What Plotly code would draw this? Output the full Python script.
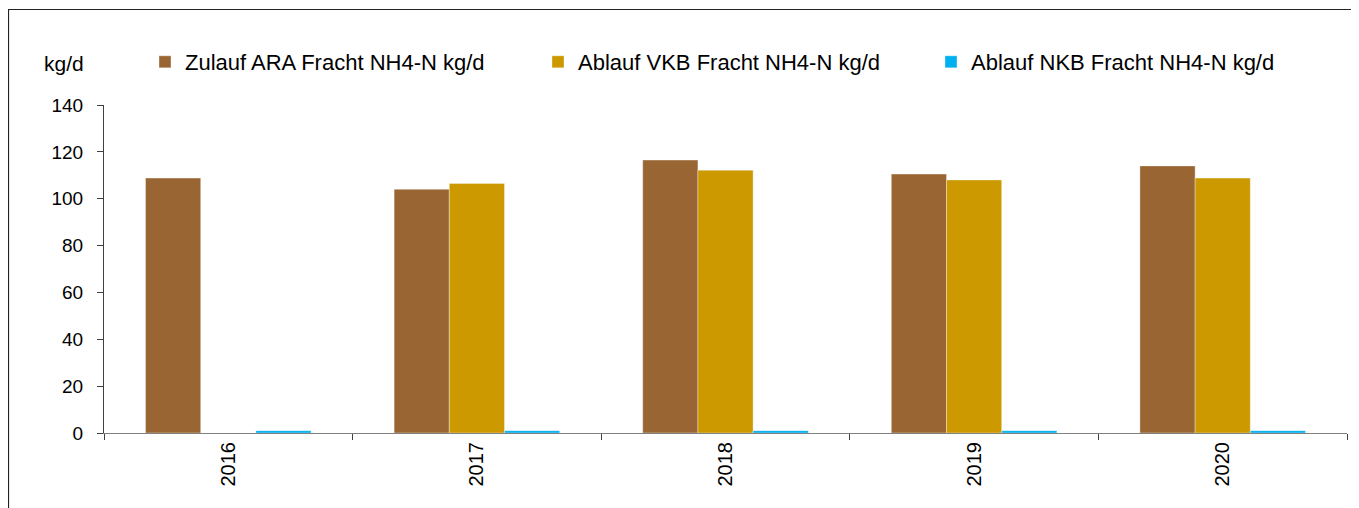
import plotly.graph_objects as go

years = ["2016", "2017", "2018", "2019", "2020"]
zulauf_ara = [108.8, 104.0, 116.5, 110.5, 114.0]
ablauf_vkb = [None, 106.5, 112.2, 108.0, 108.8]
ablauf_nkb = [1.0, 1.0, 1.0, 1.0, 1.0]

names = ["Zulauf ARA Fracht NH4-N kg/d", "Ablauf VKB Fracht NH4-N kg/d", "Ablauf NKB Fracht NH4-N kg/d"]
colors = ["#996633", "#CC9900", "#00B0F0"]
y_ticks = [0, 20, 40, 60, 80, 100, 120, 140]

FONT = "Liberation Sans, Arial, sans-serif"

fig = go.Figure()
for name, vals, col in zip(names, [zulauf_ara, ablauf_vkb, ablauf_nkb], colors):
    fig.add_trace(go.Bar(
        x=years, y=vals, name=name,
        marker=dict(color=col, line=dict(color="rgba(255,255,255,0.35)", width=1)),
    ))

# page has an 8px body margin; figure coords = page coords - 8
OFF = 8
W, H = 1359 - OFF, 508 - OFF
L, T = 104 - OFF, 105 - OFF
R = 1359 - 1347
B = 508 - 433
pw = W - L - R
ph = H - T - B
base_y = 433 - OFF  # figure y of plot bottom

def px_x(page_x):
    return (page_x - OFF - L) / pw

def px_y(page_y):
    return (433 - page_y) / ph

fig.update_layout(
    width=W, height=H,
    margin=dict(l=L, r=R, t=T, b=B),
    paper_bgcolor="white", plot_bgcolor="white",
    barmode="group", bargap=0.334, bargroupgap=0,
    font=dict(family=FONT, size=19, color="black"),
    showlegend=True,
    legend=dict(
        orientation="h", x=px_x(145), xanchor="left",
        y=px_y(62), yanchor="middle",
        font=dict(family=FONT, size=22, color="black"),
        entrywidth=348, entrywidthmode="pixels",
        bgcolor="rgba(0,0,0,0)", traceorder="normal",
    ),
    xaxis=dict(
        type="category", tickson="boundaries", ticks="outside", ticklen=6,
        tickcolor="#404040", showline=True, linecolor="#808080", linewidth=1,
        tickangle=-90, showgrid=False, tickfont=dict(size=20),
    ),
    yaxis=dict(
        range=[0, 140], tickvals=y_ticks, ticks="outside", ticklen=6,
        tickcolor="#404040", showline=True, linecolor="#404040", linewidth=1,
        showgrid=False, zeroline=False, ticklabelstandoff=10,
    ),
    annotations=[dict(
        text="kg/d", xref="paper", yref="paper",
        x=px_x(86), xanchor="right", y=px_y(63), yanchor="middle",
        showarrow=False, font=dict(family=FONT, size=21, color="black"),
    )],
    shapes=[dict(
        type="rect", xref="paper", yref="paper",
        x0=px_x(8.5), x1=px_x(1380),
        y0=px_y(530), y1=px_y(9.5),
        line=dict(color="#222222", width=1.2), fillcolor="rgba(0,0,0,0)",
        layer="below",
    )],
)

fig.write_html("out.html")
